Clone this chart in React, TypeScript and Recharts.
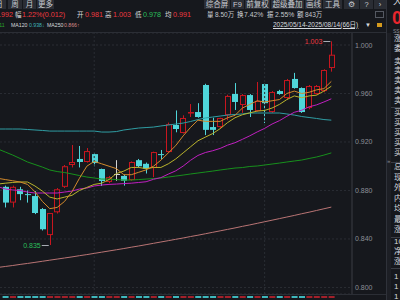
import React from 'react';
import { ComposedChart, Bar, Line, XAxis, YAxis, CartesianGrid, ReferenceLine, ReferenceDot, Cell } from 'recharts';

const dates = ['2025-06-12','2025-06-13','2025-06-16','2025-06-17','2025-06-18','2025-06-19','2025-06-20','2025-06-23','2025-06-24','2025-06-25','2025-06-26','2025-06-27','2025-06-30',
'2025-07-01','2025-07-02','2025-07-03','2025-07-04','2025-07-07','2025-07-08','2025-07-09','2025-07-10','2025-07-11','2025-07-14','2025-07-15','2025-07-16','2025-07-17','2025-07-18','2025-07-21','2025-07-22','2025-07-23','2025-07-24','2025-07-25','2025-07-28','2025-07-29','2025-07-30','2025-07-31',
'2025-08-01','2025-08-04','2025-08-05','2025-08-06','2025-08-07','2025-08-08','2025-08-11','2025-08-12','2025-08-13','2025-08-14'];

const openP = [null,0.883,0.870,0.881,0.877,0.8754,0.8647,0.8432,0.862,0.883,0.901,0.906,0.9035,0.910,0.8977,0.887,0.894,0.892,0.8886,0.905,0.902,0.8985,0.910,0.9117,0.934,0.9274,0.9445,0.9447,0.967,0.9323,0.9323,0.9422,0.9596,0.9505,0.9587,0.9455,0.9678,0.9447,0.962,0.9563,0.972,0.9645,0.948,0.9596,0.962,0.981];
const highP = [null,0.884,0.884,0.883,0.880,0.8795,0.8655,0.8614,0.882,0.901,0.9175,0.9167,0.915,0.911,0.898,0.892,0.905,0.893,0.904,0.906,0.903,0.912,0.9134,0.936,0.946,0.942,0.9513,0.952,0.968,0.940,0.940,0.959,0.9686,0.9595,0.9595,0.9695,0.968,0.962,0.963,0.972,0.977,0.965,0.967,0.967,0.980,1.003];
const lowP = [null,0.866,0.866,0.872,0.870,0.8605,0.847,0.835,0.861,0.882,0.899,0.899,0.903,0.900,0.8837,0.886,0.888,0.884,0.888,0.899,0.894,0.891,0.906,0.911,0.928,0.927,0.9406,0.940,0.9257,0.9257,0.931,0.938,0.9464,0.944,0.9406,0.945,0.9356,0.944,0.959,0.955,0.964,0.944,0.947,0.959,0.961,0.978];
const closeP = [null,0.870,0.883,0.877,0.8765,0.8614,0.848,0.8614,0.881,0.900,0.9035,0.9035,0.9125,0.9026,0.8878,0.891,0.894,0.888,0.9035,0.900,0.898,0.9117,0.9098,0.9348,0.9307,0.9398,0.9447,0.9406,0.930,0.930,0.9398,0.958,0.953,0.9587,0.9464,0.9538,0.952,0.9612,0.9596,0.9711,0.9645,0.9447,0.9662,0.9662,0.9794,0.992];

const ma5 = [0.890,0.889,0.888,0.887,0.885,0.879,0.871,0.865,0.866,0.871,0.879,0.890,0.900,0.904,0.902,0.900,0.898,0.893,0.893,0.895,0.897,0.900,0.905,0.911,0.917,0.925,0.932,0.938,0.937,0.937,0.937,0.940,0.942,0.948,0.951,0.954,0.953,0.954,0.955,0.960,0.962,0.960,0.961,0.963,0.964,0.970];
const ma10 = [0.8853,0.886,0.8866,0.887,0.887,0.8837,0.8795,0.8745,0.873,0.8745,0.876,0.880,0.8825,0.885,0.886,0.889,0.894,0.896,0.899,0.899,0.898,0.899,0.899,0.902,0.906,0.911,0.916,0.921,0.924,0.927,0.931,0.936,0.940,0.9425,0.944,0.9455,0.946,0.948,0.951,0.955,0.958,0.9565,0.958,0.9586,0.962,0.966];
const ma20 = [0.8832,0.8812,0.8804,0.880,0.8787,0.8779,0.8779,0.8779,0.8779,0.8787,0.8795,0.8812,0.882,0.8837,0.8845,0.885,0.8853,0.8857,0.886,0.8866,0.8872,0.8892,0.8906,0.8935,0.8962,0.9001,0.9049,0.9089,0.9113,0.9128,0.9147,0.9174,0.9194,0.9222,0.9251,0.9283,0.9312,0.9348,0.9376,0.9412,0.9445,0.9462,0.949,0.9506,0.953,0.9556];
const ma60 = [0.9142,0.9117,0.9092,0.9064,0.9035,0.9014,0.8993,0.8969,0.8956,0.8948,0.8936,0.8923,0.8911,0.8903,0.8894,0.8894,0.889,0.8886,0.8886,0.889,0.8894,0.8898,0.8903,0.8911,0.8919,0.8927,0.8936,0.8944,0.8952,0.896,0.8969,0.8977,0.8985,0.8989,0.8998,0.9002,0.901,0.9018,0.9026,0.9035,0.9043,0.9051,0.9064,0.9076,0.9092,0.911];
const ma120 = [0.9307,0.9307,0.9307,0.9307,0.9303,0.9299,0.9295,0.929,0.929,0.929,0.929,0.929,0.929,0.929,0.9282,0.9282,0.9286,0.9299,0.9307,0.9315,0.9319,0.9323,0.9332,0.934,0.9348,0.9356,0.9369,0.9385,0.9398,0.9406,0.9414,0.9422,0.9427,0.9431,0.9439,0.9439,0.9439,0.9439,0.9439,0.9431,0.9422,0.941,0.9402,0.9394,0.9385,0.938];
const ma250 = [0.8165,0.8173,0.8181,0.819,0.8198,0.8207,0.8216,0.8225,0.8234,0.8243,0.8252,0.8262,0.8271,0.8281,0.8291,0.8301,0.8311,0.8321,0.8332,0.8342,0.8353,0.8364,0.8375,0.8386,0.8397,0.8408,0.842,0.8431,0.8443,0.8455,0.8467,0.8479,0.8491,0.8504,0.8516,0.8529,0.8542,0.8555,0.8568,0.8581,0.8594,0.8608,0.8621,0.8635,0.8649,0.8663];

const yTicks = [0.8, 0.84, 0.88, 0.92, 0.96, 1.0];

const BG = '#16181d';
const UP = '#c8161f';
const DOWN = '#4fd6da';
const FLAT = '#d2d2d2';
const RED_T = '#ee3a40';
const GREEN_T = '#2bbf5a';
const WHITE_T = '#d6d9de';
const GREY_T = '#c4c7cc';
const AXIS_T = '#8c9098';
const GRID = '#2a2d34';
const FONT = '"Liberation Sans", Arial, "Noto Sans CJK SC", sans-serif';

const rows = dates.map((d, i) => ({
  i,
  date: d,
  open: openP[i],
  high: highP[i],
  low: lowP[i],
  close: closeP[i],
  range: openP[i] == null ? null : [lowP[i], highP[i]],
  ma5: ma5[i], ma10: ma10[i], ma20: ma20[i], ma60: ma60[i], ma120: ma120[i], ma250: ma250[i],
}));

const monthStarts = rows.filter((r, k) => k > 0 && r.date.slice(5, 7) !== rows[k - 1].date.slice(5, 7)).map(r => r.i);
const candles = rows.filter(r => r.open != null);
const hiRow = candles.reduce((a, b) => (b.high! > a.high! ? b : a));
const loRow = candles.reduce((a, b) => (b.low! < a.low! ? b : a));

function Candle(props: any) {
  const { x, y, width, height, payload } = props;
  if (!payload || payload.open == null) return null;
  const { open, close, high, low } = payload;
  const top = Math.min(y, y + height);
  const h = Math.abs(height);
  const k = high > low ? h / (high - low) : 0;
  const py = (v: number) => top + (high - v) * k;
  const color = close > open ? UP : close < open ? DOWN : FLAT;
  const cx = Math.floor(x + width / 2) + 0.5;
  const bTop = py(Math.max(open, close));
  const bBot = py(Math.min(open, close));
  const left = Math.round(x);
  const w = Math.round(width);
  return (
    <g>
      <line x1={cx} x2={cx} y1={top} y2={top + h} stroke={color} strokeWidth={1} />
      {close > open ? (
        <rect x={left + 0.5} y={bTop + 0.5} width={w - 1} height={Math.max(bBot - bTop - 1, 0.5)} fill={BG} stroke={color} strokeWidth={1} />
      ) : close < open ? (
        <rect x={left} y={bTop} width={w} height={Math.max(bBot - bTop, 1)} fill={color} />
      ) : (
        <line x1={left} x2={left + w} y1={Math.round(bTop) + 0.5} y2={Math.round(bTop) + 0.5} stroke={color} />
      )}
    </g>
  );
}

const YTick = (p: any) => (
  <text x={p.x} y={p.y} dy={2.5} fontSize={7} fill={AXIS_T} fontFamily={FONT} textAnchor="start">
    {Number(p.payload.value).toFixed(3)}
  </text>
);

const T = ({ x, y, s, c, children, u, b }: any) => (
  <div style={{ position: 'absolute', left: x, top: y, fontSize: s, color: c, lineHeight: 1, whiteSpace: 'nowrap', fontFamily: FONT, textDecoration: u ? 'underline' : 'none', fontWeight: b ? 700 : 400 }}>{children}</div>
);

const Box = ({ x, y, w, h, bg }: any) => (
  <div style={{ position: 'absolute', left: x, top: y, width: w, height: h, background: bg }} />
);

const leftTabs = [
  { x: -8, w: 14, t: '日' },
  { x: 8, w: 14, t: '周' },
  { x: 23, w: 13, t: '月' },
  { x: 37, w: 17, t: '更多' },
];
const rightTabs = [
  { x: 204, w: 26, t: '综合屏' },
  { x: 231, w: 13, t: 'F9' },
  { x: 245, w: 25, t: '前复权' },
  { x: 271, w: 33, t: '超级叠加' },
  { x: 305, w: 17, t: '画线' },
  { x: 323, w: 19, t: '工具' },
  { x: 344, w: 15, t: '⚙' },
  { x: 360, w: 13, t: '?' },
  { x: 374, w: 12, t: '›' },
];
const quoteRow = [
  { x: -5, t: '0.992', c: RED_T, s: 7.2 },
  { x: 15, t: '幅', c: WHITE_T, s: 6.5 },
  { x: 22, t: '1.22%(0.012)', c: RED_T, s: 7.2 },
  { x: 77, t: '开', c: WHITE_T, s: 6.5 },
  { x: 85, t: '0.981', c: RED_T, s: 7.2 },
  { x: 105, t: '高', c: WHITE_T, s: 6.5 },
  { x: 113, t: '1.003', c: RED_T, s: 7.2 },
  { x: 135, t: '低', c: WHITE_T, s: 6.5 },
  { x: 143, t: '0.978', c: GREEN_T, s: 7.2 },
  { x: 165, t: '均', c: WHITE_T, s: 6.5 },
  { x: 173, t: '0.991', c: RED_T, s: 7.2 },
  { x: 207, t: '量', c: WHITE_T, s: 6.5 },
  { x: 215, t: '8.50万', c: GREY_T, s: 6.5 },
  { x: 237, t: '换', c: WHITE_T, s: 6.5 },
  { x: 244, t: '7.42%', c: GREY_T, s: 6.8 },
  { x: 267, t: '振', c: WHITE_T, s: 6.5 },
  { x: 275, t: '2.55%', c: GREY_T, s: 6.8 },
  { x: 297, t: '额', c: WHITE_T, s: 6.5 },
  { x: 305, t: '843万', c: GREY_T, s: 6.5 },
];
const maRow = [
  { x: -8, t: '0.911', c: '#2aa52a' },
  { x: 11, t: 'MA120', c: WHITE_T },
  { x: 29, t: '0.938↓', c: '#3fb4bb' },
  { x: 47, t: 'MA250', c: WHITE_T },
  { x: 64, t: '0.866↑', c: '#d88a8a' },
];
const sidePanel = [
  [39, '涨'], [49, '委'], [62, '卖'], [71, '卖'], [81, '卖'], [91, '卖'], [101, '卖'],
  [113, '买'], [123, '买'], [133, '买'], [143, '买'], [153, '买'],
  [167, '总'], [178, '现'], [188, '外'], [199, '内'], [209, '均'], [220, '最'], [230, '涨'],
  [242, '10'], [252, '净'], [262, '涨'], [277, '1'], [287, '1'], [297, '1'],
];
const sideSeps = [107, 162, 237, 268];

export default function App() {
  return (
    <div style={{ position: 'fixed', left: 0, top: 0, width: 400, height: 300, background: BG, overflow: 'hidden', fontFamily: FONT }}>
      <div style={{ position: 'absolute', left: 0, top: 0 }}>
        <ComposedChart width={400} height={300} data={rows} margin={{ top: 33, right: 0, left: 0, bottom: 6 }}>
          <CartesianGrid vertical={false} stroke={GRID} strokeDasharray="2 2" />
          <XAxis type="number" dataKey="i" domain={[0.2847, 47.79]} allowDataOverflow hide />
          <YAxis orientation="right" width={48} domain={[0.7946, 1.0099]} allowDataOverflow ticks={yTicks} tick={<YTick />} tickSize={0} tickMargin={3} tickLine={false} axisLine={{ stroke: '#3a3d45' }} />
          {monthStarts.map(m => (
            <ReferenceLine key={m} x={m} stroke={GRID} strokeDasharray="2 2" />
          ))}
          <Line dataKey="ma250" stroke="#b97474" strokeWidth={1} dot={false} isAnimationActive={false} />
          <Line dataKey="ma120" stroke="#2f9da3" strokeWidth={1} dot={false} isAnimationActive={false} />
          <Line dataKey="ma60" stroke="#17901c" strokeWidth={1} dot={false} isAnimationActive={false} />
          <Line dataKey="ma20" stroke="#c01fc0" strokeWidth={1} dot={false} isAnimationActive={false} />
          <Bar dataKey="range" barSize={6} isAnimationActive={false} shape={(p: any) => <Candle {...p} />} />
          <Line dataKey="ma10" stroke="#b9b32c" strokeWidth={1} dot={false} isAnimationActive={false} />
          <Line dataKey="ma5" stroke="#d38a2c" strokeWidth={1} dot={false} isAnimationActive={false} />
          <ReferenceDot x={hiRow.i} y={hiRow.high as number} r={0} ifOverflow="visible"
            shape={(p: any) => (
              <g>
                <line x1={p.cx - 1} x2={p.cx - 8} y1={Math.round(p.cy) + 0.5} y2={Math.round(p.cy) + 0.5} stroke="#a8acb3" />
                <text x={p.cx - 9} y={p.cy + 2.5} textAnchor="end" fontSize={7} fill={RED_T} fontFamily={FONT}>{(hiRow.high as number).toFixed(3)}</text>
              </g>
            )} />
          <ReferenceDot x={loRow.i} y={loRow.low as number} r={0} ifOverflow="visible"
            shape={(p: any) => (
              <g>
                <line x1={p.cx - 1} x2={p.cx - 8} y1={Math.round(p.cy) + 0.5} y2={Math.round(p.cy) + 0.5} stroke="#a8acb3" />
                <text x={p.cx - 9} y={p.cy + 2.5} textAnchor="end" fontSize={7} fill={GREEN_T} fontFamily={FONT}>{(loRow.low as number).toFixed(3)}</text>
              </g>
            )} />
        </ComposedChart>
      </div>

      <div style={{ position: 'absolute', left: 0, top: 294 }}>
        <ComposedChart width={400} height={6} data={rows} margin={{ top: 2, right: 48, left: 0, bottom: 2 }}>
          <XAxis type="number" dataKey="i" domain={[0.2847, 47.79]} allowDataOverflow hide />
          <YAxis domain={[0, 1]} hide />
          <Bar dataKey={(r: any) => (r.open == null ? null : 1)} barSize={6} isAnimationActive={false}>
            {rows.map((r, k) => (
              <Cell key={k} fill={r.close != null && r.open != null && r.close >= r.open ? '#a3202a' : '#3fb8bd'} />
            ))}
          </Bar>
        </ComposedChart>
      </div>

      <Box x={0} y={32} w={386} h={1} bg="#2b2e35" />
      <Box x={0} y={294} w={386} h={1} bg="#2b2e35" />

      {leftTabs.map((b, k) => (
        <React.Fragment key={'l' + k}>
          <Box x={b.x} y={0} w={b.w} h={9} bg="#2a2d34" />
          <div style={{ position: 'absolute', left: b.x, top: 0.5, width: b.w, textAlign: 'center', fontSize: 7.5, lineHeight: '8px', color: '#c9ccd1', fontFamily: FONT }}>{b.t}</div>
        </React.Fragment>
      ))}
      {rightTabs.map((b, k) => (
        <React.Fragment key={'r' + k}>
          <Box x={b.x} y={0} w={b.w} h={9} bg="#2a2d34" />
          <div style={{ position: 'absolute', left: b.x, top: 0.5, width: b.w, textAlign: 'center', fontSize: 7.5, lineHeight: '8px', color: '#c9ccd1', fontFamily: FONT }}>{b.t}</div>
        </React.Fragment>
      ))}

      {quoteRow.map((q, k) => (
        <T key={'q' + k} x={q.x} y={15 - q.s / 2} s={q.s} c={q.c}>{q.t}</T>
      ))}
      <Box x={375} y={11} w={9} h={7} bg="#555962" />
      <Box x={376} y={12} w={7} h={5} bg={BG} />

      {maRow.map((q, k) => (
        <T key={'m' + k} x={q.x} y={22.5} s={5.2} c={q.c}>{q.t}</T>
      ))}
      <T x={273} y={21.5} s={6.5} c={WHITE_T} u>2025/05/14-2025/08/14(66日)</T>
      <T x={365} y={22} s={6} c={WHITE_T}>▼</T>
      <Box x={377} y={23} w={5} h={4} bg="#d49a1e" />

      <Box x={386} y={0} w={1} h={300} bg="#2f323a" />
      <Box x={387} y={33} w={4} h={267} bg="#1d1f25" />
      <T x={387} y={158} s={6} c="#8a8e96">»</T>
      <T x={393} y={-3} s={9} c={WHITE_T}>大</T>
      <div style={{ position: 'absolute', left: 392, top: 10, fontSize: 18, lineHeight: '17px', height: 17, color: '#e8262d', fontWeight: 700, fontFamily: FONT }}>0</div>
      <T x={393} y={29} s={5} c="#8a8e96">SS</T>
      {sidePanel.map(([yy, t], k) => (
        <T key={'s' + k} x={394} y={(yy as number) - 4} s={8} c={WHITE_T}>{t}</T>
      ))}
      {sideSeps.map((yy, k) => (
        <Box key={'sp' + k} x={391} y={yy} w={9} h={1} bg="#3a3d45" />
      ))}
    </div>
  );
}
